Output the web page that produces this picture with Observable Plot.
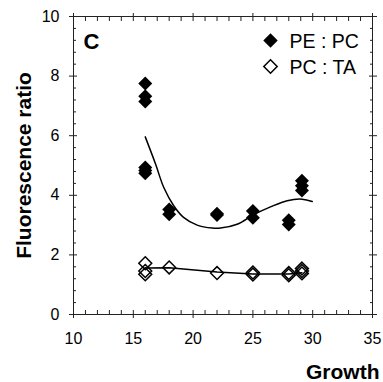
<!DOCTYPE html>
<html>
<head>
<meta charset="utf-8">
<script src="https://cdn.jsdelivr.net/npm/d3@7"></script>
<script src="https://cdn.jsdelivr.net/npm/@observablehq/plot@0.6"></script>
<style>
  html, body { margin: 0; padding: 0; background: white; }
</style>
</head>
<body>
<div id="chart"></div>
<script>
// Series: PE : PC (filled diamonds)
const peX = [16, 16, 16, 16, 16, 16, 18, 18, 22, 22, 25, 25, 28, 28, 29.1, 29.1, 29.1];
const peY = [7.75, 7.32, 7.15, 4.93, 4.83, 4.74, 3.52, 3.36, 3.38, 3.34, 3.47, 3.25, 3.16, 3.02, 4.49, 4.32, 4.16];
// Series: PC : TA (open diamonds)
const pcX = [16, 16, 16, 18, 22, 25, 25, 28, 28, 29.1, 29.1, 29.1];
const pcY = [1.72, 1.46, 1.35, 1.58, 1.39, 1.41, 1.34, 1.39, 1.32, 1.54, 1.46, 1.38];
// Fitted curves
const peFitX = [16, 16.86, 17.55, 18.38, 19.2, 20.34, 21.6, 22.29, 23.68, 25.07, 26.47, 27.87, 29.12, 29.96];
const peFitY = [5.96, 5.05, 4.26, 3.65, 3.26, 3.0, 2.9, 2.9, 3.03, 3.35, 3.61, 3.82, 3.87, 3.79];
const pcFitX = [16, 18, 22, 25, 28, 29.1];
const pcFitY = [1.56, 1.57, 1.43, 1.36, 1.36, 1.40];
// Labels and ticks
const seriesNames = ["PE : PC", "PC : TA"];
const panelLabel = "C";
const xTitle = "Growth";
const yTitle = "Fluorescence ratio";
const xTicks = [10, 15, 20, 25, 30, 35];
const yTicks = [0, 2, 4, 6, 8, 10];
const xMinor = d3.range(10, 35.001, 1).filter(v => !xTicks.includes(v));
const yMinor = d3.range(0, 10.001, 0.4).map(v => +v.toFixed(1)).filter(v => !yTicks.includes(v));

const pe = peX.map((x, i) => ({x, y: peY[i]}));
const pc = pcX.map((x, i) => ({x, y: pcY[i]}));
const peFit = peFitX.map((x, i) => ({x, y: peFitY[i]}));
const pcFit = pcFitX.map((x, i) => ({x, y: pcFitY[i]}));

const axisColor = "#222";
const blank = () => "";

const chart = Plot.plot({
  width: 383,
  height: 382,
  marginLeft: 73,
  marginRight: 11,
  marginTop: 16,
  marginBottom: 68,
  x: {domain: [10, 35], label: null},
  y: {domain: [0, 10], label: null},
  style: {fontFamily: "'Liberation Sans', Arial, sans-serif", fontSize: "16px", color: "#000", background: "white"},
  marks: [
    Plot.frame({stroke: axisColor, strokeWidth: 1}),
    // major ticks crossing the frame
    Plot.axisX(xTicks, {anchor: "bottom", tickSize: 8, dy: -4, tickFormat: blank, stroke: axisColor}),
    Plot.axisX(xTicks, {anchor: "top", tickSize: 8, dy: 4, tickFormat: blank, stroke: axisColor}),
    Plot.axisY(yTicks, {anchor: "left", tickSize: 8, dx: 4, tickFormat: blank, stroke: axisColor}),
    Plot.axisY(yTicks, {anchor: "right", tickSize: 8, dx: -4, tickFormat: blank, stroke: axisColor}),
    // minor ticks inside
    Plot.axisX(xMinor, {anchor: "bottom", tickSize: 4, dy: -4, tickFormat: blank, stroke: axisColor}),
    Plot.axisX(xMinor, {anchor: "top", tickSize: 4, dy: 4, tickFormat: blank, stroke: axisColor}),
    Plot.axisY(yMinor, {anchor: "left", tickSize: 3, dx: 3, tickFormat: blank, stroke: axisColor}),
    Plot.axisY(yMinor, {anchor: "right", tickSize: 3, dx: -3, tickFormat: blank, stroke: axisColor}),
    // tick labels
    Plot.axisX(xTicks, {anchor: "bottom", tickSize: 0, tickPadding: 18, fontSize: 16, fill: "#000"}),
    Plot.axisY(yTicks, {anchor: "left", tickSize: 0, tickPadding: 14, fontSize: 16, fill: "#000"}),
    // fitted curves
    Plot.line(peFit, {x: "x", y: "y", curve: "catmull-rom", stroke: "black", strokeWidth: 1.5}),
    Plot.line(pcFit, {x: "x", y: "y", curve: "linear", stroke: "black", strokeWidth: 1.5}),
    // data
    Plot.dot(pc, {x: "x", y: "y", symbol: "diamond2", r: 5.8, fill: "none", stroke: "black", strokeWidth: 1.5}),
    Plot.dot(pe, {x: "x", y: "y", symbol: "diamond2", r: 6.3, fill: "black", stroke: "none"}),
    // legend
    Plot.dot([seriesNames[0]], {frameAnchor: "top-right", dx: -102, dy: 24, symbol: "diamond2", r: 6.5, fill: "black", stroke: "none"}),
    Plot.dot([seriesNames[1]], {frameAnchor: "top-right", dx: -102, dy: 50, symbol: "diamond2", r: 6, fill: "none", stroke: "black", strokeWidth: 1.5}),
    Plot.text([seriesNames[0]], {text: d => d, frameAnchor: "top-right", dx: -83, dy: 31.3, textAnchor: "start", lineAnchor: "bottom", fontSize: 19.5, fill: "black"}),
    Plot.text([seriesNames[1]], {text: d => d, frameAnchor: "top-right", dx: -83, dy: 57.3, textAnchor: "start", lineAnchor: "bottom", fontSize: 19.5, fill: "black"}),
    // panel label
    Plot.text([panelLabel], {text: d => d, frameAnchor: "top-left", dx: 10, dy: 32, textAnchor: "start", lineAnchor: "bottom", fontSize: 22, fontWeight: "bold", fill: "black"}),
    // axis titles
    Plot.text([xTitle], {text: d => d, frameAnchor: "bottom-right", dx: 7, dy: 64, textAnchor: "end", lineAnchor: "bottom", fontSize: 21, fontWeight: "bold", fill: "black"}),
    Plot.text([yTitle], {text: d => d, frameAnchor: "left", dx: -43, rotate: -90, textAnchor: "middle", lineAnchor: "bottom", fontSize: 21, fontWeight: "bold", fill: "black"})
  ]
});
document.getElementById("chart").appendChild(chart);
</script>
</body>
</html>
